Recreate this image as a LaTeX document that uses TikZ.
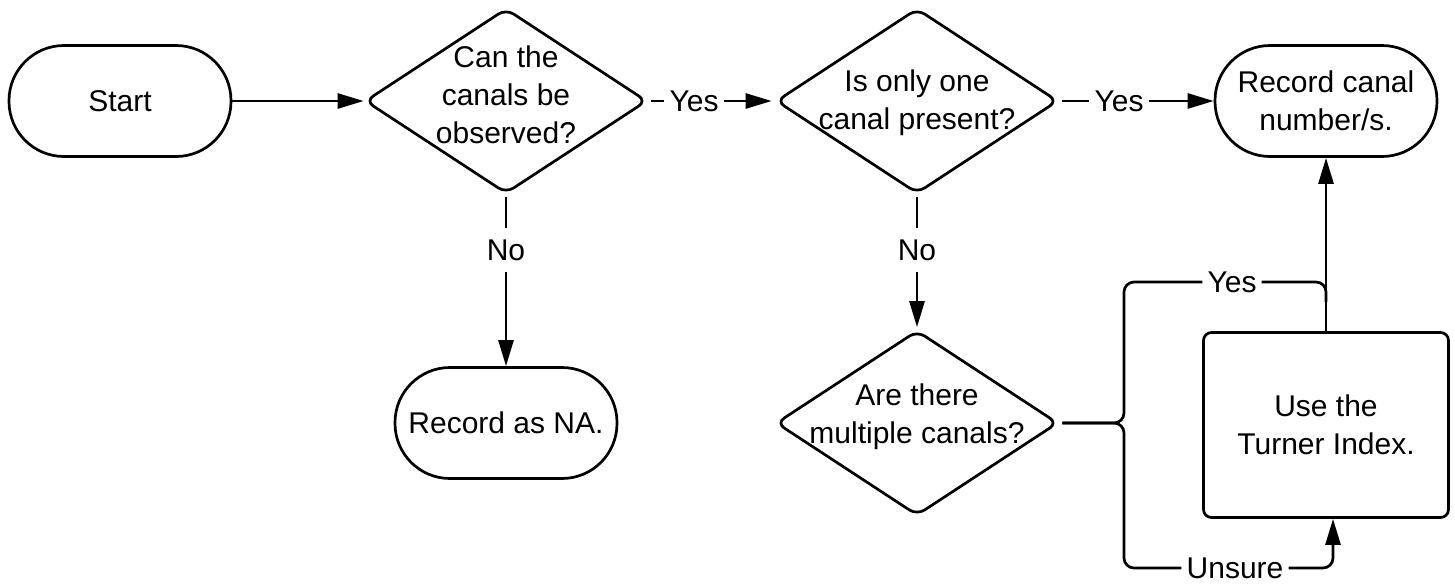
\documentclass[tikz,border=0pt]{standalone}
\usepackage{fontspec}
\setmainfont{Liberation Sans}
\usetikzlibrary{arrows.meta,shapes.geometric}
\begin{document}
\begin{tikzpicture}[x=1pt,y=-1pt,
  every node/.style={font=\fontsize{30}{38}\selectfont, text=black},
  flow/.style={line width=2.7pt, line join=round, draw=black},
  arr/.style={flow, -{Triangle[length=26pt,width=15pt]}},
  terminal/.style={rectangle, draw, line width=2.7pt, rounded corners=55pt,
    minimum width=222pt, minimum height=111pt, inner sep=0pt, align=center},
  decision/.style={diamond, draw, line width=2.7pt, rounded corners=9pt,
    minimum width=282pt, minimum height=185pt, inner sep=0pt},
  question/.style={align=center, yshift=6pt},
  process/.style={rectangle, draw, line width=2.7pt, rounded corners=8pt,
    minimum width=245pt, minimum height=185pt, inner sep=0pt, align=center},
  lbl/.style={inner xsep=5pt, inner ysep=11pt},
]
\useasboundingbox (0,0) rectangle (1455,584);

% boxes
\node[terminal] (start) at (120,101) {Start};
\node[decision, label={[question]center:{Can the\\canals be\\observed?}}] (d1) at (506,101) {};
\node[decision, label={[question, yshift=-8pt]center:{Is only one\\canal present?}}] (d2) at (917,101) {};
\node[terminal] (rec) at (1326,101) {Record canal\\number/s.};
\node[terminal] (na) at (506,423) {Record as NA.};
\node[decision, label={[question]center:{Are there\\multiple canals?}}] (d3) at (917,423) {};
\node[process] (turner) at (1326,425) {Use the\\Turner Index.};

% connector labels
\node[lbl] (y1) at (694,101) {Yes};
\node[lbl] (y2) at (1119,101) {Yes};
\node[lbl] (n1) at (506,250) {No};
\node[lbl] (n2) at (917,250) {No};
\node[lbl] (y3) at (1232,282) {Yes};
\node[lbl] (u) at (1235,568) {Unsure};

% bend points of the split after the last question
\coordinate (split) at (1124,423);
\coordinate (ytop) at (1124,282);
\coordinate (ubot) at (1124,568);
\coordinate (yjoin) at (1326,282);
\coordinate (ujoin) at (1333,568);

% main row
\draw[arr] (start) -- (d1);
\draw[flow, shorten <=3pt] (d1) -- (y1);
\draw[arr, shorten >=3pt] (y1) -- (d2);
\draw[flow, shorten <=3pt] (d2) -- (y2);
\draw[arr] (y2) -- (rec);

% "No" branches
\draw[flow, shorten <=2pt] (d1) -- (n1);
\draw[arr] (n1) -- (na);
\draw[flow, shorten <=2pt] (d2) -- (n2);
\draw[arr, shorten >=2pt] (n2) -- (d3);

% split into "Yes" and "Unsure"
\draw[flow, rounded corners=10pt, shorten <=3pt] (d3.east) -- (split) -- (ytop) -- (y3.west);
\draw[flow, rounded corners=10pt, shorten <=3pt] (d3.east) -- (split) -- (ubot) -- (u.west);
\draw[flow, rounded corners=10pt] (y3.east) -- (yjoin) -- ([yshift=-20pt]yjoin);
\draw[arr] (turner) -- (rec);
\draw[arr, rounded corners=10pt] (u.east) -- (ujoin) -- (ujoin |- turner.south);
\end{tikzpicture}
\end{document}
